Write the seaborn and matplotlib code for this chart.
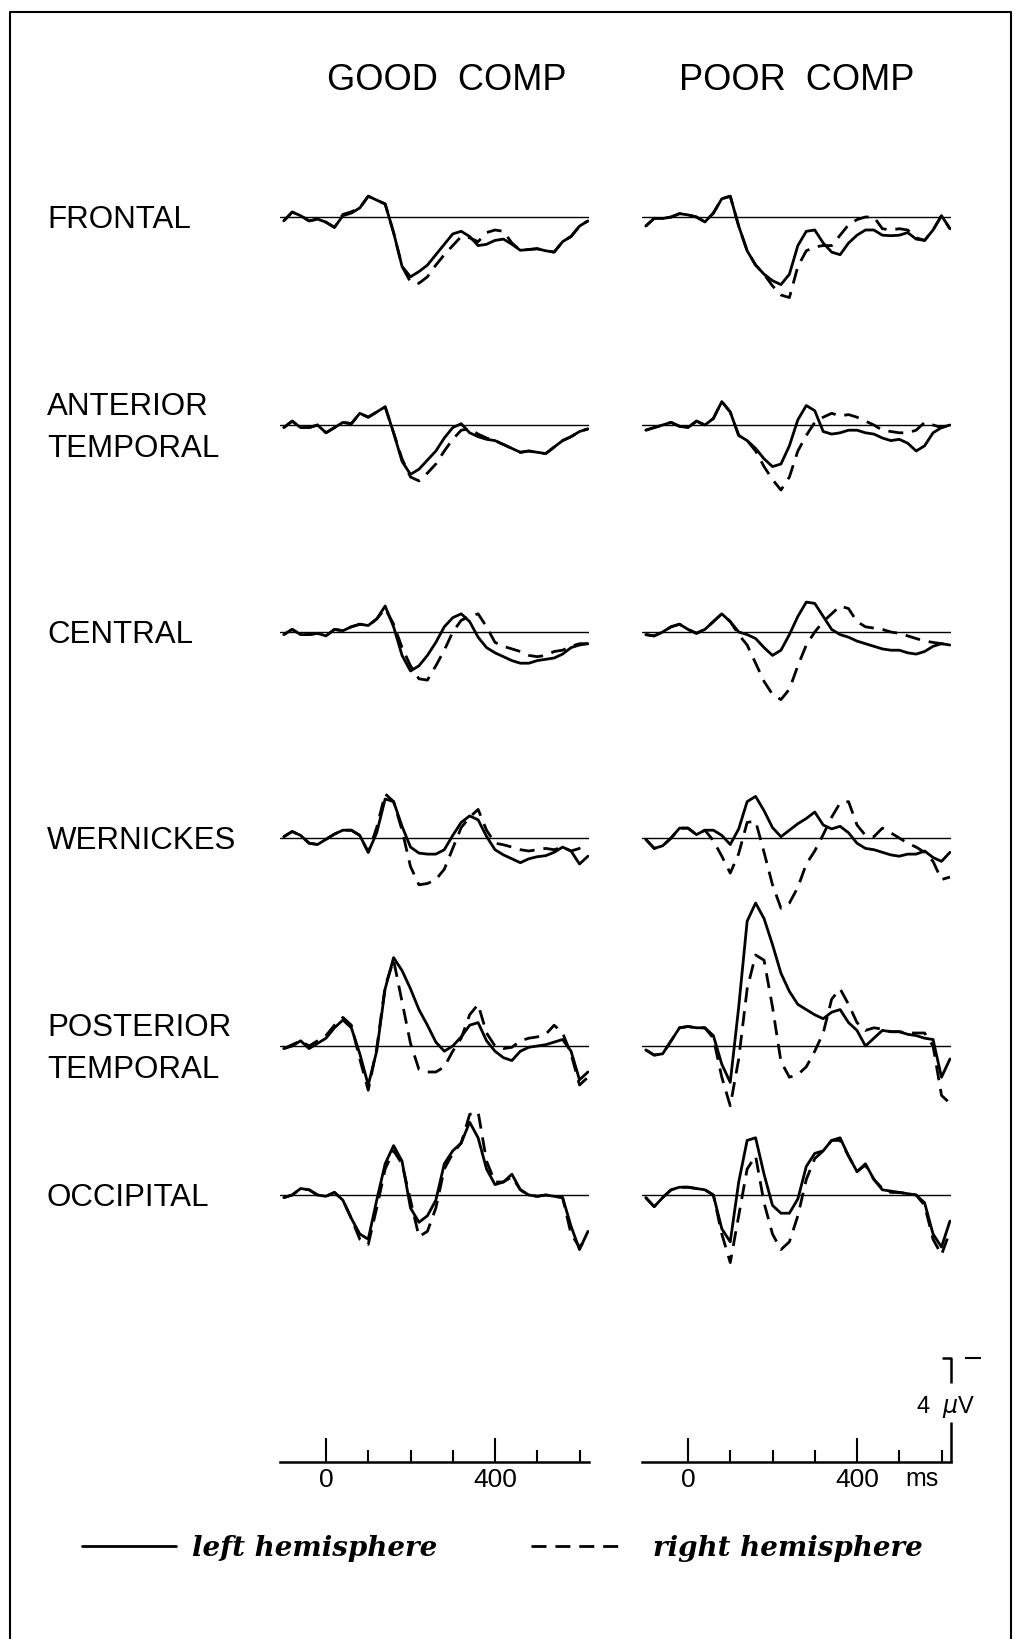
import matplotlib
matplotlib.use("Agg")
import matplotlib.pyplot as plt
import seaborn as sns
import pandas as pd
from matplotlib.lines import Line2D

# ---------------- data (amplitude in microvolts, negative plotted up) ----------------
TIME_MS = [-100, -80, -60, -40, -20, 0, 20, 40, 60, 80, 100, 120, 140, 160, 180, 200,
           220, 240, 260, 280, 300, 320, 340, 360, 380, 400, 420, 440, 460, 480, 500,
           520, 540, 560, 580, 600, 620]

REGIONS = ["FRONTAL", "ANTERIOR\nTEMPORAL", "CENTRAL", "WERNICKES",
           "POSTERIOR\nTEMPORAL", "OCCIPITAL"]
GROUPS = ["GOOD  COMP", "POOR  COMP"]
HEMIS = ["left hemisphere", "right hemisphere"]

FRONTAL_GOOD_L = [0.15, -0.19, -0.05, 0.15, 0.08, 0.2, 0.4, -0.05, -0.15, -0.35,
                  -0.8, -0.65, -0.5, 0.6, 1.9, 2.3, 2.1, 1.85, 1.45, 1.05,
                  0.65, 0.55, 0.75, 1.1, 1.05, 0.9, 0.85, 1.05, 1.28, 1.25,
                  1.22, 1.3, 1.35, 0.95, 0.75, 0.35, 0.15]
FRONTAL_GOOD_R = [0.15, -0.19, -0.05, 0.15, 0.08, 0.2, 0.4, -0.1, -0.2, -0.35,
                  -0.8, -0.65, -0.5, 0.6, 1.9, 2.5, 2.55, 2.3, 1.85, 1.45,
                  1.1, 0.75, 0.8, 0.95, 0.6, 0.5, 0.55, 1.0, 1.28, 1.25,
                  1.22, 1.3, 1.35, 0.95, 0.75, 0.35, 0.15]
FRONTAL_POOR_L = [0.35, 0.05, 0.06, 0.0, -0.13, -0.08, 0.0, 0.19, -0.15, -0.7,
                  -0.8, 0.35, 1.3, 1.85, 2.2, 2.45, 2.6, 2.2, 1.1, 0.55,
                  0.5, 1.0, 1.35, 1.45, 1.0, 0.7, 0.5, 0.5, 0.7, 0.72,
                  0.7, 0.6, 0.85, 0.9, 0.5, -0.05, 0.45]
FRONTAL_POOR_R = [0.35, 0.05, 0.06, 0.0, -0.13, -0.08, 0.0, 0.19, -0.15, -0.7,
                  -0.8, 0.35, 1.3, 1.85, 2.2, 2.65, 3.0, 3.1, 1.9, 1.3,
                  1.15, 1.1, 1.1, 0.7, 0.3, 0.1, 0.0, 0.0, 0.45, 0.5,
                  0.45, 0.5, 0.8, 0.9, 0.5, -0.05, 0.45]

ANT_TEMP_GOOD_L = [0.1, -0.15, 0.1, 0.1, 0.0, 0.3, 0.1, -0.1, -0.05, -0.45,
                   -0.3, -0.5, -0.7, 0.3, 1.4, 1.9, 1.7, 1.35, 1.0, 0.5,
                   0.1, -0.05, 0.3, 0.45, 0.55, 0.6, 0.75, 0.9, 1.05, 1.0,
                   1.05, 1.1, 0.85, 0.6, 0.45, 0.25, 0.15]
ANT_TEMP_GOOD_R = [0.1, -0.15, 0.1, 0.1, 0.0, 0.3, 0.1, -0.1, -0.05, -0.45,
                   -0.3, -0.5, -0.7, 0.3, 1.3, 2.0, 2.15, 1.85, 1.5, 1.0,
                   0.55, 0.2, 0.15, 0.35, 0.5, 0.6, 0.75, 0.9, 1.05, 1.0,
                   1.05, 1.1, 0.85, 0.6, 0.45, 0.25, 0.15]
ANT_TEMP_POOR_L = [0.2, 0.1, 0.0, -0.1, 0.05, 0.1, -0.15, 0.0, -0.25, -0.9,
                   -0.5, 0.4, 0.6, 0.9, 1.3, 1.6, 1.5, 0.8, -0.2, -0.75,
                   -0.55, 0.25, 0.35, 0.3, 0.2, 0.2, 0.3, 0.35, 0.5, 0.6,
                   0.55, 0.7, 1.0, 0.8, 0.3, 0.1, 0.0]
ANT_TEMP_POOR_R = [0.2, 0.1, 0.0, -0.1, 0.05, 0.1, -0.15, 0.0, -0.25, -0.9,
                   -0.5, 0.4, 0.6, 1.0, 1.6, 2.1, 2.5, 2.0, 1.0, 0.4,
                   -0.1, -0.3, -0.45, -0.35, -0.4, -0.3, -0.15, 0.0, 0.2, 0.25,
                   0.3, 0.3, 0.2, -0.1, 0.0, 0.1, 0.0]

CENTRAL_GOOD_L = [0.1, -0.1, 0.1, 0.1, 0.05, 0.15, -0.1, -0.05, -0.2, -0.3,
                  -0.25, -0.5, -1.0, -0.2, 0.9, 1.5, 1.3, 0.9, 0.4, -0.2,
                  -0.55, -0.7, -0.4, 0.2, 0.6, 0.8, 0.95, 1.1, 1.2, 1.2,
                  1.1, 1.05, 1.0, 0.85, 0.6, 0.5, 0.45]
CENTRAL_GOOD_R = [0.1, -0.1, 0.1, 0.1, 0.05, 0.15, -0.1, -0.05, -0.2, -0.3,
                  -0.25, -0.5, -0.9, -0.3, 0.6, 1.3, 1.8, 1.85, 1.3, 0.7,
                  0.0, -0.45, -0.6, -0.7, -0.2, 0.4, 0.55, 0.65, 0.75, 0.9,
                  0.95, 0.9, 0.75, 0.7, 0.55, 0.45, 0.45]
CENTRAL_POOR_L = [0.1, 0.15, 0.0, -0.2, -0.3, -0.1, 0.05, -0.1, -0.4, -0.7,
                  -0.4, 0.0, 0.1, 0.25, 0.6, 0.9, 0.7, 0.1, -0.6, -1.15,
                  -1.1, -0.6, -0.1, 0.1, 0.2, 0.35, 0.45, 0.55, 0.65, 0.7,
                  0.7, 0.8, 0.85, 0.75, 0.55, 0.45, 0.5]
CENTRAL_POOR_R = [0.1, 0.15, 0.0, -0.2, -0.3, -0.1, 0.05, -0.1, -0.4, -0.7,
                  -0.4, 0.1, 0.5, 1.2, 1.9, 2.4, 2.6, 2.2, 1.3, 0.5,
                  0.0, -0.4, -0.7, -1.0, -0.9, -0.4, -0.2, -0.15, -0.1, 0.0,
                  0.05, 0.15, 0.25, 0.35, 0.4, 0.45, 0.5]

WERNICKES_GOOD_L = [-0.05, -0.25, -0.1, 0.2, 0.25, 0.05, -0.15, -0.3, -0.3, -0.1,
                    0.55, -0.2, -1.5, -1.4, -0.45, 0.35, 0.58, 0.62, 0.62, 0.45,
                    -0.1, -0.6, -0.85, -0.7, -0.06, 0.45, 0.65, 0.8, 0.95, 0.8,
                    0.72, 0.68, 0.55, 0.35, 0.5, 1.0, 0.7]
WERNICKES_GOOD_R = [-0.05, -0.25, -0.1, 0.2, 0.25, 0.05, -0.15, -0.3, -0.3, -0.1,
                    0.55, -0.4, -1.7, -1.4, -0.3, 1.1, 1.8, 1.75, 1.6, 1.2,
                    0.4, -0.4, -0.8, -1.1, -0.3, 0.2, 0.26, 0.35, 0.45, 0.5,
                    0.45, 0.4, 0.45, 0.35, 0.5, 0.4, 0.3]
WERNICKES_POOR_L = [0.05, 0.4, 0.3, 0.0, -0.38, -0.38, -0.13, -0.3, -0.3, -0.1,
                    0.25, -0.35, -1.4, -1.6, -1.05, -0.4, -0.05, -0.3, -0.55, -0.75,
                    -1.0, -0.5, -0.35, -0.45, -0.2, 0.2, 0.4, 0.45, 0.55, 0.65,
                    0.7, 0.62, 0.62, 0.5, 0.75, 0.9, 0.55]
WERNICKES_POOR_R = [0.05, 0.4, 0.3, 0.0, -0.38, -0.38, -0.13, -0.3, 0.1, 0.7,
                    1.35, 0.6, -0.6, -0.65, 0.55, 1.8, 2.7, 2.5, 1.9, 1.0,
                    0.5, -0.13, -0.8, -1.35, -1.4, -0.5, -0.1, -0.05, -0.38, -0.2,
                    0.0, 0.2, 0.35, 0.55, 0.9, 1.6, 1.5]

POST_TEMP_GOOD_L = [0.1, 0.0, -0.2, 0.1, -0.1, -0.3, -0.7, -1.0, -0.7, 0.3,
                    1.5, 0.2, -2.2, -3.4, -2.9, -2.2, -1.4, -0.8, -0.15, 0.2,
                    0.0, -0.35, -0.8, -0.9, -0.2, 0.2, 0.45, 0.56, 0.2, 0.05,
                    0.0, -0.05, -0.15, -0.25, 0.2, 1.3, 1.0]
POST_TEMP_GOOD_R = [0.1, -0.05, -0.2, 0.0, -0.2, -0.4, -0.8, -1.1, -0.8, 0.5,
                    1.7, 0.1, -2.3, -3.3, -1.7, -0.1, 0.9, 1.0, 1.0, 0.8,
                    0.2, -0.3, -1.2, -1.6, -0.5, 0.0, 0.1, 0.05, -0.2, -0.3,
                    -0.35, -0.45, -0.8, -0.5, 0.3, 1.5, 1.2]
POST_TEMP_POOR_L = [0.15, 0.35, 0.3, -0.2, -0.7, -0.75, -0.7, -0.7, -0.4, 0.7,
                    1.4, -1.5, -4.8, -5.5, -4.9, -3.9, -2.8, -2.1, -1.6, -1.4,
                    -1.2, -1.05, -1.3, -1.4, -0.9, -0.6, 0.0, -0.3, -0.6, -0.55,
                    -0.55, -0.45, -0.4, -0.3, -0.25, 1.2, 0.5]
POST_TEMP_POOR_R = [0.15, 0.35, 0.3, -0.2, -0.7, -0.75, -0.7, -0.7, -0.3, 1.2,
                    2.3, 0.5, -2.2, -3.5, -3.3, -1.5, 0.6, 1.2, 1.1, 0.8,
                    0.2, -0.5, -1.8, -2.2, -1.6, -0.9, -0.6, -0.7, -0.65, -0.55,
                    -0.55, -0.5, -0.5, -0.5, 0.0, 1.9, 2.2]

OCCIPITAL_GOOD_L = [0.1, 0.0, -0.25, -0.2, 0.0, 0.05, -0.1, 0.2, 0.9, 1.5,
                    1.7, 0.2, -1.2, -1.9, -1.3, 0.5, 1.05, 0.8, 0.2, -1.2,
                    -1.7, -2.0, -2.8, -2.2, -1.0, -0.4, -0.5, -0.8, -0.2, 0.0,
                    0.05, 0.0, 0.05, 0.1, 1.2, 2.1, 1.4]
OCCIPITAL_GOOD_R = [0.1, 0.0, -0.25, -0.2, 0.0, 0.05, -0.1, 0.2, 0.9, 1.7,
                    1.9, 0.5, -1.0, -1.7, -1.2, 0.2, 1.6, 1.4, 0.5, -1.0,
                    -1.6, -2.0, -3.1, -3.2, -1.3, -0.5, -0.5, -0.7, -0.2, 0.0,
                    0.05, 0.0, 0.05, 0.1, 1.5, 2.0, 1.6]
OCCIPITAL_POOR_L = [0.1, 0.45, 0.1, -0.2, -0.3, -0.3, -0.25, -0.2, 0.0, 1.3,
                    1.8, -0.5, -2.1, -2.2, -0.8, 0.4, 0.7, 0.7, 0.15, -1.1,
                    -1.6, -1.7, -2.1, -2.2, -1.5, -0.9, -1.2, -0.6, -0.2, -0.15,
                    -0.1, -0.05, 0.0, 0.3, 1.5, 2.0, 1.0]
OCCIPITAL_POOR_R = [0.1, 0.45, 0.1, -0.2, -0.3, -0.3, -0.25, -0.2, 0.0, 1.5,
                    2.6, 0.8, -1.0, -1.5, 0.3, 1.5, 2.1, 1.8, 0.8, -0.6,
                    -1.4, -1.7, -2.1, -2.1, -1.5, -0.9, -1.15, -0.6, -0.25, -0.1,
                    -0.1, -0.05, 0.0, 0.4, 1.7, 2.3, 1.4]

SERIES = {
    (0, 0): (FRONTAL_GOOD_L, FRONTAL_GOOD_R), (0, 1): (FRONTAL_POOR_L, FRONTAL_POOR_R),
    (1, 0): (ANT_TEMP_GOOD_L, ANT_TEMP_GOOD_R), (1, 1): (ANT_TEMP_POOR_L, ANT_TEMP_POOR_R),
    (2, 0): (CENTRAL_GOOD_L, CENTRAL_GOOD_R), (2, 1): (CENTRAL_POOR_L, CENTRAL_POOR_R),
    (3, 0): (WERNICKES_GOOD_L, WERNICKES_GOOD_R), (3, 1): (WERNICKES_POOR_L, WERNICKES_POOR_R),
    (4, 0): (POST_TEMP_GOOD_L, POST_TEMP_GOOD_R), (4, 1): (POST_TEMP_POOR_L, POST_TEMP_POOR_R),
    (5, 0): (OCCIPITAL_GOOD_L, OCCIPITAL_GOOD_R), (5, 1): (OCCIPITAL_POOR_L, OCCIPITAL_POOR_R),
}

SCALE_UV = 4
TICKS_MAJOR = [0, 400]
TICKS_MINOR = [100, 200, 300, 500, 600]

# ---------------- layout ----------------
sns.set_style("white")
plt.rcParams["font.family"] = ["Liberation Sans", "DejaVu Sans"]
plt.rcParams["mathtext.fontset"] = "dejavusans"
plt.rcParams["text.color"] = "black"
plt.rcParams["xtick.color"] = "black"
plt.rcParams["xtick.labelcolor"] = "black"
plt.rcParams["axes.edgecolor"] = "black"

W, H = 1016, 1639
fig = plt.figure(figsize=(W / 100, H / 100), dpi=100)
fig.patch.set_facecolor("white")


def rect(x0, y0, w, h):
    """pixel box (top-left origin) -> figure fraction"""
    return [x0 / W, 1 - (y0 + h) / H, w / W, h / H]


PX_PER_MS = 0.4225
PX_PER_UV = 26.0
XLIM = (-110, 622)
YTOP, YBOT = -6.0, 4.0
ZERO_X = [326, 688]
BASE_Y = [217, 425, 632, 838, 1046, 1195]
AXIS_Y = 1462
LW = 2.0
DASH = (5.4, 3.2)

rows = []
for (r, c), (left, right) in SERIES.items():
    for hemi, vals in zip(HEMIS, (left, right)):
        for t, v in zip(TIME_MS, vals):
            rows.append({"row": r, "col": c, "hemisphere": hemi, "time": t, "uv": v})
df = pd.DataFrame(rows)

ax_w = (XLIM[1] - XLIM[0]) * PX_PER_MS
ax_h = (YBOT - YTOP) * PX_PER_UV
for r, base in enumerate(BASE_Y):
    for c, zx in enumerate(ZERO_X):
        x0 = zx + XLIM[0] * PX_PER_MS
        y0 = base + YTOP * PX_PER_UV
        ax = fig.add_axes(rect(x0, y0, ax_w, ax_h))
        ax.patch.set_alpha(0)
        sub = df[(df.row == r) & (df.col == c)]
        ax.axhline(0, color="black", lw=1.0, zorder=1)
        sns.lineplot(data=sub, x="time", y="uv", style="hemisphere",
                     style_order=HEMIS, dashes={HEMIS[0]: "", HEMIS[1]: DASH},
                     color="black", linewidth=LW, estimator=None, legend=False,
                     ax=ax, zorder=2)
        for ln in ax.get_lines():
            ln.set_solid_joinstyle("round")
            ln.set_dash_joinstyle("round")
        ax.set_xlim(*XLIM)
        ax.set_ylim(YBOT, YTOP)
        ax.axis("off")

# time axes
for c, zx in enumerate(ZERO_X):
    x0 = zx + XLIM[0] * PX_PER_MS
    ax = fig.add_axes(rect(x0, AXIS_Y - 60, ax_w, 60))
    ax.patch.set_alpha(0)
    ax.set_xlim(*XLIM)
    ax.set_yticks([])
    for s in ("top", "left", "right"):
        ax.spines[s].set_visible(False)
    ax.spines["bottom"].set_linewidth(1.8)
    ax.spines["bottom"].set_color("black")
    ax.set_xticks(TICKS_MAJOR)
    ax.set_xticklabels([str(t) for t in TICKS_MAJOR])
    ax.set_xticks(TICKS_MINOR, minor=True)
    ax.tick_params(axis="x", which="both", bottom=True, top=False, direction="in",
                   width=1.5, color="black", labelcolor="black")
    ax.tick_params(axis="x", which="major", length=17, labelsize=19, pad=4)
    ax.tick_params(axis="x", which="minor", length=8.5)

# "ms" label
fig.text(922 / W, 1 - 1479 / H, "ms", ha="center", va="center", fontsize=18)

# calibration bar
x_end = ZERO_X[1] + XLIM[1] * PX_PER_MS
cal_top = AXIS_Y - SCALE_UV * PX_PER_UV


def fline(xs, ys, lw=1.8):
    fig.add_artist(Line2D([x / W for x in xs], [1 - y / H for y in ys],
                          transform=fig.transFigure, color="black", lw=lw,
                          solid_capstyle="butt"))


fline([x_end, x_end], [AXIS_Y, AXIS_Y - 40])
fline([x_end - 9, x_end, x_end], [cal_top, cal_top, cal_top + 25])
fline([x_end + 14, x_end + 30], [cal_top, cal_top], lw=1.5)
fig.text(945 / W, 1 - 1407 / H, r"4  $\mu$V", ha="center", va="center", fontsize=17)

# frame
fline([10, 10, 1011, 1011], [H + 5, 12, 12, H + 5], lw=1.5)

# column titles
fig.text(447 / W, 1 - 80 / H, GROUPS[0], ha="center", va="center", fontsize=26)
fig.text(797 / W, 1 - 80 / H, GROUPS[1], ha="center", va="center", fontsize=26)

# row labels
for lab, base in zip(REGIONS, BASE_Y):
    fig.text(47 / W, 1 - (base + 3) / H, lab, ha="left", va="center",
             fontsize=22.5, linespacing=1.55)

# legend (one entry per block so each keeps its own spacing)
handles = [Line2D([], [], color="black", lw=LW),
           Line2D([], [], color="black", lw=LW, linestyle=(0, DASH))]
LEG_X = [82, 531]
LEG_PAD = [0.55, 1.0]
legend_font = {"family": "DejaVu Serif", "weight": "bold", "style": "italic", "size": 20}
for h, lab, lx, pad in zip(handles, HEMIS, LEG_X, LEG_PAD):
    leg = fig.legend([h], [lab], loc="center left",
                     bbox_to_anchor=(lx / W, 1 - 1548 / H), frameon=False,
                     handlelength=3.4, handletextpad=pad,
                     borderpad=0, borderaxespad=0, labelcolor="black",
                     prop=legend_font)

fig.savefig("out.png", dpi=100, facecolor="white")
